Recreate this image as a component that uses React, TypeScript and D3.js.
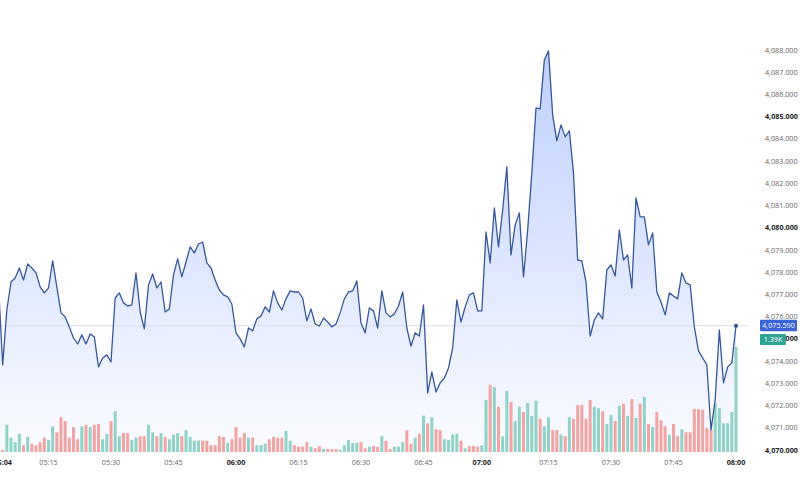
import React from "react";
import * as d3 from "d3";

// bar index of the first price (one bar before 05:04)
const startIndex = -1;

const prices = [
  4077.43, 4073.83, 4076.30, 4077.56, 4077.74, 4078.19, 4077.65, 4078.37, 4078.19, 4077.97,
  4077.34, 4077.07, 4077.29, 4078.51, 4077.34, 4076.17, 4075.99, 4075.54, 4075.04, 4074.77,
  4075.18, 4074.77, 4075.22, 4075.09, 4073.74, 4074.14, 4074.28, 4073.96, 4076.84, 4077.07,
  4076.62, 4076.48, 4076.53, 4077.97, 4076.21, 4075.45, 4077.43, 4077.92, 4077.29, 4077.56,
  4076.21, 4076.35, 4077.88, 4078.60, 4077.79, 4078.46, 4079.14, 4078.87, 4079.27, 4079.36,
  4078.42, 4078.19, 4077.65, 4077.20, 4076.98, 4076.89, 4076.57, 4075.27, 4075.00, 4074.64,
  4075.49, 4075.36, 4075.90, 4076.03, 4076.44, 4076.21, 4077.16, 4076.62, 4076.30, 4076.80,
  4077.16, 4077.11, 4077.11, 4076.84, 4075.81, 4076.35, 4075.67, 4075.58, 4075.94, 4075.76,
  4075.54, 4075.67, 4076.17, 4076.80, 4077.11, 4077.16, 4077.61, 4075.72, 4075.27, 4076.39,
  4076.26, 4075.49, 4077.16, 4076.17, 4075.99, 4076.12, 4076.48, 4077.11, 4075.49, 4074.68,
  4075.27, 4075.13, 4076.53, 4072.57, 4073.51, 4072.61, 4073.02, 4073.24, 4073.69, 4074.59,
  4076.75, 4075.76, 4076.44, 4076.98, 4077.07, 4076.26, 4076.26, 4079.81, 4078.42, 4080.89,
  4079.14, 4080.80, 4082.74, 4078.78, 4080.13, 4080.67, 4077.79, 4079.90, 4082.47, 4085.39,
  4085.35, 4087.55, 4087.96, 4085.08, 4083.91, 4084.63, 4084.09, 4084.36, 4082.47, 4078.55,
  4078.51, 4077.56, 4075.13, 4075.85, 4076.17, 4075.90, 4078.10, 4078.33, 4077.83, 4079.90,
  4078.55, 4078.78, 4077.29, 4081.34, 4080.49, 4080.49, 4079.23, 4079.77, 4077.11, 4076.66,
  4076.08, 4077.07, 4076.93, 4076.80, 4077.97, 4077.52, 4077.43, 4075.54, 4074.46, 4074.14,
  4073.83, 4070.90, 4072.25, 4075.40, 4073.02, 4073.74, 4073.92, 4075.59,
];

const volumes = [
  30, 30, 360, 190, 130, 240, 90, 200, 110, 90,
  130, 190, 160, 340, 260, 460, 410, 190, 330, 170,
  340, 360, 330, 360, 370, 170, 240, 410, 540, 210,
  250, 250, 160, 190, 210, 210, 360, 260, 210, 250,
  200, 170, 230, 250, 210, 290, 200, 150, 150, 150,
  150, 90, 90, 210, 200, 120, 170, 330, 190, 250,
  190, 190, 90, 90, 110, 170, 200, 190, 190, 280,
  150, 90, 70, 70, 130, 70, 50, 80, 40, 40,
  40, 40, 30, 90, 160, 120, 120, 130, 50, 70,
  80, 70, 210, 150, 40, 70, 70, 130, 290, 110,
  190, 240, 480, 380, 460, 300, 290, 170, 160, 230,
  240, 150, 50, 80, 80, 70, 90, 690, 890, 860,
  600, 210, 810, 660, 410, 600, 530, 650, 480, 680,
  440, 340, 460, 290, 290, 230, 210, 460, 440, 620,
  620, 440, 690, 600, 580, 540, 370, 490, 410, 610,
  640, 480, 700, 450, 640, 730, 370, 330, 530, 420,
  340, 230, 370, 210, 300, 260, 260, 570, 570, 560,
  320, 290, 640, 580, 380, 380, 530, 1390,
];

// g = up bar (green), r = down bar (red)
const volumeDirs =
  "rrggggrgrr" + "rrggrrrrrr" + "grgrrggrgg" + "rrggrrggrg" + "rgggrggggr" +
  "rrrrrgrrrr" + "grgggrrrrg" + "grrrrgrrgr" + "rrgggggrrg" + "rrgrrgggrr" +
  "grgrgrrggg" + "grgrrrggrg" + "rggrggrggg" + "rggrrgrgrr" + "rrrggrggrg" +
  "rgrgrgrgrr" + "rgrrgrrrrr" + "rrgggggg";

const timeTicks = ["05:04", "05:15", "05:30", "05:45", "06:00", "06:15", "06:30", "06:45", "07:00", "07:15", "07:30", "07:45", "08:00"];
const timeTickIndex = [0, 11, 26, 41, 56, 71, 86, 101, 115, 131, 146, 161, 176];
const boldTimes = ["05:04", "06:00", "07:00", "08:00"];

const priceTicks = d3.range(4070, 4089, 1);
const lastPriceText = "4,075.590";
const lastVolumeText = "1.39K";

const fmt = d3.format(",.3f");

export default function App() {
  const W = 800;
  const H = 500;
  const lastIdx = prices.length - 1 + startIndex;
  const x = d3.scaleLinear().domain([0, 176]).range([2.67, 736]);
  const y = d3.scaleLinear().domain([4070, 4088]).range([450, 50]);
  const baseY = 452;
  const vMax = d3.max(volumes) as number;
  const vy = d3.scaleLinear().domain([0, vMax]).range([baseY, 347]);

  const pts = prices.map((p, k) => [x(k + startIndex), y(p)] as [number, number]);
  const line = d3.line<[number, number]>().x((d) => d[0]).y((d) => d[1]);
  const area = d3
    .area<[number, number]>()
    .x((d) => d[0])
    .y0(baseY)
    .y1((d) => d[1]);

  const last = prices[prices.length - 1];
  const lastY = y(last);
  const lastVol = volumes[volumes.length - 1];
  const lastVolY = 339.5;
  const font = "'Open Sans', 'Noto Sans', sans-serif";

  return (
    <svg
      width={W}
      height={H}
      style={{ position: "fixed", left: 0, top: 0, background: "#fff", display: "block" }}
      fontFamily={font}
    >
      <defs>
        <linearGradient id="areaGrad" gradientUnits="userSpaceOnUse" x1={0} x2={0} y1={y(4088)} y2={baseY}>
          <stop offset="0%" stopColor="rgb(41,98,255)" stopOpacity={0.3} />
          <stop offset="100%" stopColor="rgb(41,98,255)" stopOpacity={0.02} />
        </linearGradient>
        <clipPath id="plotClip">
          <rect x={0} y={0} width={748} height={baseY + 1} />
        </clipPath>
      </defs>
      <rect x={0} y={0} width={W} height={H} fill="#fff" />
      <g clipPath="url(#plotClip)">
        <path d={area(pts) || ""} fill="url(#areaGrad)" />
        {/* last price line */}
        <line x1={0} x2={757} y1={lastY} y2={lastY} stroke="#d9dee8" strokeWidth={1} />
        {volumes.map((v, k) => {
          const i = k + startIndex;
          const top = vy(v);
          return (
            <rect
              key={k}
              x={x(i) - 1.5}
              y={top}
              width={3}
              height={baseY - top}
              fill={volumeDirs[k] === "g" ? "#8fd2c7" : "#f4a3a3"}
            />
          );
        })}
        <path d={line(pts) || ""} fill="none" stroke="#35579b" strokeWidth={1.3} strokeLinejoin="round" />
        <circle cx={x(lastIdx)} cy={lastY} r={2} fill="#2c4f92" />
      </g>

      {/* price axis */}
      {priceTicks.map((p) => {
        const bold = p % 5 === 0;
        return (
          <text
            key={p}
            x={765}
            y={y(p)}
            dy="0.35em"
            fontSize={7.2}
            fill={bold ? "#222" : "#666"}
            fontWeight={bold ? 700 : 400}
          >
            {fmt(p)}
          </text>
        );
      })}

      {/* last price label */}
      <rect x={760} y={lastY - 6} width={37} height={11.5} fill="#3a63d6" rx={1} />
      <text x={778.5} y={lastY} dy="0.35em" fontSize={7.2} fill="#fff" textAnchor="middle">
        {lastPriceText}
      </text>
      {/* last volume label */}
      <rect x={760} y={lastVolY - 5.5} width={26} height={11} fill="#2fa395" rx={1} />
      <text x={773} y={lastVolY} dy="0.35em" fontSize={7.2} fill="#fff" textAnchor="middle">
        {lastVolumeText}
      </text>

      {/* time axis */}
      {timeTicks.map((t, k) => {
        const bold = boldTimes.includes(t);
        return (
          <text
            key={t}
            x={x(timeTickIndex[k])}
            y={462}
            dy="0.35em"
            textAnchor="middle"
            fontSize={7.2}
            fill={bold ? "#222" : "#666"}
            fontWeight={bold ? 700 : 400}
          >
            {t}
          </text>
        );
      })}
    </svg>
  );
}
